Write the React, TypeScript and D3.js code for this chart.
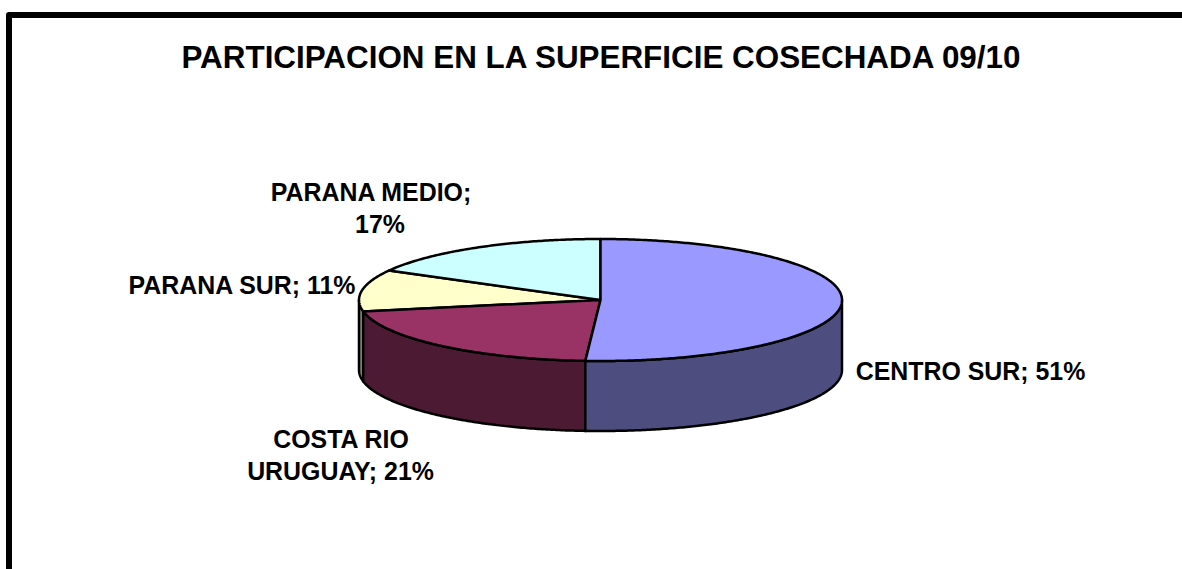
import React from "react";
import * as d3 from "d3";

const regions = ["CENTRO SUR", "COSTA RIO URUGUAY", "PARANA SUR", "PARANA MEDIO"];
const shares = [51, 21, 11, 17];
const topColors = ["#9999FF", "#993366", "#FFFFCC", "#CCFFFF"];
const sideColors = ["#4D4D80", "#4D1A33", "#808066", "#668080"];
const titleText = "PARTICIPACION EN LA SUPERFICIE COSECHADA 09/10";
const labelLines = [
  [{ t: "CENTRO SUR; 51%", x: 970.5, y: 380 }],
  [{ t: "COSTA RIO", x: 341, y: 448 }, { t: "URUGUAY; 21%", x: 340.5, y: 480 }],
  [{ t: "PARANA SUR; 11%", x: 242, y: 294 }],
  [{ t: "PARANA MEDIO;", x: 371, y: 201 }, { t: "17%", x: 380, y: 233 }],
];

const W = 1182, H = 569;
const cx = 600.5, cy = 300, rx = 241.5, ry = 61, depth = 70;

const px = (a: number) => cx + rx * Math.sin(a);
const py = (a: number) => cy - ry * Math.cos(a);
const line = d3.line<[number, number]>();

function arcPoints(a0: number, a1: number, dy = 0): [number, number][] {
  const n = Math.max(2, Math.ceil(Math.abs(a1 - a0) / 0.01));
  return d3.range(n + 1).map((i) => {
    const a = a0 + ((a1 - a0) * i) / n;
    return [px(a), py(a) + dy] as [number, number];
  });
}

export default function App() {
  const arcs = d3.pie<number>().sort(null)(shares);
  const order = [2, 3, 1, 0];
  return (
    <svg width={W} height={H} style={{ position: "absolute", left: 0, top: 0, background: "#fff" }} fontFamily="'Liberation Sans', Arial, sans-serif" fontWeight="bold" fill="#000">
      <path d={`M9,${H + 10}V15H${W + 10}`} fill="none" stroke="#000" strokeWidth={6} strokeLinejoin="round" />
      <text x={601} y={68} textAnchor="middle" fontSize={31.4}>{titleText}</text>
      {order.map((i) => {
        const a = arcs[i];
        const lo = Math.max(a.startAngle, Math.PI / 2);
        const hi = Math.min(a.endAngle, (3 * Math.PI) / 2);
        if (hi <= lo) return null;
        const top = arcPoints(lo, hi);
        const bottom = arcPoints(hi, lo, depth);
        return <path key={`s${i}`} d={line([...top, ...bottom])! + "Z"} fill={sideColors[i]} stroke="#000" strokeWidth={2.5} strokeLinejoin="round" />;
      })}
      {order.map((i) => {
        const a = arcs[i];
        const pts: [number, number][] = [[cx, cy], ...arcPoints(a.startAngle, a.endAngle)];
        return <path key={`t${i}`} d={line(pts)! + "Z"} fill={topColors[i]} stroke="#000" strokeWidth={2.5} strokeLinejoin="round" />;
      })}
      {labelLines.map((ls, i) =>
        ls.map((l, j) => (
          <text key={`${i}-${j}`} x={l.x} y={l.y} textAnchor="middle" fontSize={24.9}>{l.t}</text>
        ))
      )}
      <title>{regions.join(", ")}</title>
    </svg>
  );
}
